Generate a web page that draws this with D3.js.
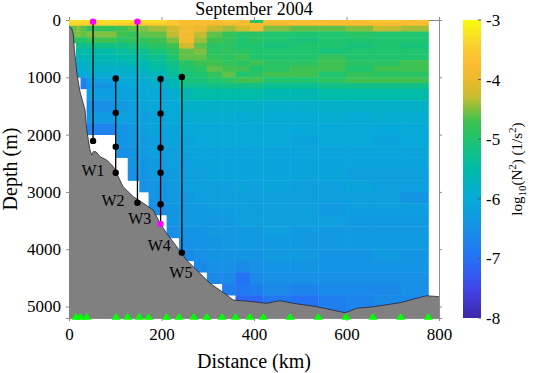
<!DOCTYPE html>
<html>
<head>
<meta charset="utf-8">
<script src="https://cdn.jsdelivr.net/npm/d3@7"></script>
<style>
body { margin: 0; background: #fff; }
text { font-family: "Liberation Serif", "Times New Roman", serif; fill: #000; }
</style>
</head>
<body>
<svg id="chart" width="533" height="373"></svg>
<script>
// CTD stations along the section (km), shown as green triangles
var stationKm = [15, 25, 38, 102, 127, 152, 172, 211, 238, 270, 298, 331, 360, 391, 420, 478, 539, 599, 657, 717, 777];
// pcolor columns start at the coast and end at the last station
var columnEdgeKm = [0].concat(stationKm);

// depth bins (m)
var depthEdges = [0, 50, 100, 200, 300, 400, 500, 600, 700, 800, 900, 1000, 1100, 1200,
    1400, 1600, 1800, 2000, 2200, 2400, 2600, 2800, 3000, 3200, 3400, 3600, 3800,
    4000, 4200, 4400, 4600, 4800, 5000, 5200];

// log10(N^2) per column, top bin first; a column stops where its profile stops
var n2Profiles = [
    [-3.3, -3.4, -4.6, -4.6, -4.8],
    [-3.3, -3.4, -4.5, -4.5, -4.9, -5.2, -5.5, -5.7, -5.8, -5.9, -6.0],
    [-3.3, -3.4, -4.6, -4.6, -5.0, -5.3, -5.5, -5.6, -5.8, -5.9, -6.0, -6.7, -6.8],
    [-3.3, -3.4, -4.8, -4.5, -4.7, -5.2, -5.5, -5.6, -5.7, -5.8, -5.9, -6.2, -6.4, -6.2, -6.5, -6.3, -6.7],
    [-3.3, -3.5, -4.7, -4.7, -4.9, -5.2, -5.4, -5.5, -5.7, -5.8, -5.9, -6.0, -6.1, -6.1, -6.3, -6.2, -6.4, -6.4, -6.5],
    [-3.3, -3.5, -4.6, -4.8, -4.8, -5.1, -5.3, -5.5, -5.6, -5.8, -5.9, -5.95, -6.0, -6.1, -6.2, -6.2, -6.3, -6.3, -6.4, -6.4, -6.5],
    [-3.3, -3.5, -4.5, -4.6, -4.8, -5.0, -5.3, -5.4, -5.6, -5.7, -5.8, -5.9, -6.0, -6.0, -6.1, -6.2, -6.2, -6.3, -6.3, -6.4, -6.4, -6.5],
    [-3.3, -3.5, -4.4, -4.6, -4.7, -4.9, -5.1, -5.3, -5.4, -5.5, -5.7, -5.8, -5.9, -6.0, -6.0, -6.1, -6.1, -6.2, -6.2, -6.3, -6.3, -6.4, -6.4, -6.5],
    [-3.5, -3.6, -4.2, -4.3, -4.5, -4.7, -4.9, -5.0, -5.2, -5.3, -5.4, -5.6, -5.7, -5.9, -6.0, -6.0, -6.1, -6.1, -6.2, -6.2, -6.3, -6.3, -6.3, -6.4, -6.4, -6.5],
    [-3.7, -3.8, -3.9, -3.9, -3.9, -4.2, -4.6, -4.6, -4.9, -5.0, -5.1, -5.1, -5.3, -5.6, -5.8, -5.95, -6.0, -6.1, -6.1, -6.2, -6.2, -6.2, -6.3, -6.3, -6.3, -6.4, -6.5, -6.6],
    [-3.7, -3.8, -4.0, -4.3, -4.4, -4.6, -4.5, -4.6, -4.7, -4.9, -5.0, -5.1, -5.3, -5.5, -5.8, -5.9, -6.0, -6.0, -6.1, -6.1, -6.2, -6.2, -6.2, -6.3, -6.3, -6.4, -6.4, -6.5, -6.6],
    [-3.7, -3.9, -4.3, -4.6, -4.7, -4.9, -4.9, -4.8, -4.7, -4.6, -4.8, -5.0, -5.2, -5.5, -5.8, -5.9, -6.0, -6.0, -6.1, -6.1, -6.1, -6.2, -6.2, -6.2, -6.3, -6.3, -6.4, -6.4, -6.5, -6.6],
    [-3.6, -3.8, -4.4, -4.8, -4.8, -4.9, -4.8, -4.9, -4.8, -4.7, -4.6, -4.9, -5.2, -5.5, -5.8, -5.9, -6.0, -6.0, -6.1, -6.1, -6.1, -6.2, -6.2, -6.2, -6.3, -6.3, -6.3, -6.4, -6.5, -6.6, -6.8],
    [-3.7, -3.8, -4.2, -4.9, -5.0, -5.0, -4.9, -4.7, -4.9, -4.7, -5.0, -4.7, -5.2, -5.5, -5.8, -5.95, -6.0, -6.0, -6.1, -6.1, -6.1, -6.1, -6.2, -6.2, -6.2, -6.3, -6.3, -6.4, -6.6, -7.0, -6.9, -7.1],
    [-5.0, -3.8, -3.9, -4.9, -4.9, -5.0, -5.0, -5.0, -4.7, -5.0, -4.9, -4.7, -5.2, -5.5, -5.8, -5.9, -6.0, -6.0, -6.1, -6.1, -6.1, -6.2, -6.2, -6.2, -6.2, -6.3, -6.3, -6.4, -6.5, -6.6, -6.8, -7.1],
    [-3.7, -3.9, -4.5, -5.0, -5.0, -5.1, -5.0, -5.0, -4.9, -4.9, -4.7, -5.0, -5.3, -5.6, -5.85, -5.95, -6.0, -6.0, -6.1, -6.1, -6.1, -6.1, -6.2, -6.2, -6.2, -6.2, -6.3, -6.3, -6.4, -6.5, -6.6, -6.9],
    [-3.7, -3.8, -4.6, -5.0, -5.1, -5.0, -5.0, -5.0, -4.9, -4.7, -4.7, -5.0, -5.3, -5.6, -5.85, -5.95, -6.0, -6.1, -6.1, -6.1, -6.1, -6.2, -6.2, -6.2, -6.2, -6.3, -6.3, -6.3, -6.4, -6.5, -6.7, -7.0, -7.0],
    [-3.7, -3.8, -4.6, -5.0, -5.0, -5.0, -5.1, -4.8, -4.7, -4.7, -5.0, -4.9, -5.2, -5.5, -5.8, -5.9, -6.0, -6.0, -6.1, -6.1, -6.1, -6.2, -6.2, -6.3, -6.2, -6.3, -6.3, -6.4, -6.4, -6.5, -6.6, -6.8, -6.8],
    [-3.7, -3.8, -4.5, -4.9, -5.0, -5.1, -5.0, -5.0, -4.9, -5.0, -4.8, -4.7, -5.2, -5.5, -5.8, -5.95, -6.0, -6.0, -6.1, -6.1, -6.2, -6.1, -6.2, -6.2, -6.3, -6.3, -6.3, -6.4, -6.4, -6.5, -6.6, -6.7, -6.7],
    [-3.6, -3.8, -4.3, -5.0, -5.0, -5.0, -5.0, -5.0, -4.9, -4.7, -4.9, -4.7, -5.2, -5.5, -5.8, -5.9, -6.0, -6.1, -6.1, -6.1, -6.2, -6.2, -6.2, -6.2, -6.3, -6.3, -6.3, -6.3, -6.4, -6.5, -6.6, -6.6, -6.6],
    [-3.7, -3.8, -4.4, -5.0, -5.0, -5.1, -5.0, -5.0, -4.7, -4.7, -4.9, -4.7, -5.2, -5.5, -5.8, -5.9, -6.0, -6.0, -6.1, -6.1, -6.2, -6.2, -6.4, -6.2, -6.3, -6.3, -6.3, -6.4, -6.4, -6.5, -6.5, -6.6]
];

// bottom topography
var bathyKm = [0, 0.6, 5.8, 9.3, 11.5, 14.5, 16.6, 20.1, 23.8, 34.6, 38.3, 45.4, 49, 52.5, 58.4, 67, 81.5, 95.8, 103, 117,
    139, 161, 182, 197, 211, 233, 254, 283, 305, 341, 355, 398, 427, 456, 485, 536, 597, 622, 658, 716, 752, 773, 800];
var bathyDepth = [110, 117, 145, 262, 494, 728, 902, 1077, 1251, 1570, 1920, 2269, 2356, 2298, 2298, 2385, 2443, 2560, 2675, 2909,
    3083, 3199, 3315, 3548, 3722, 3956, 4188, 4420, 4595, 4799, 4886, 4916, 4944, 4898, 4944, 5003, 5108, 5031, 5003, 4933, 4856, 4811, 4828];

// moorings
var mooringName = ["W1", "W2", "W3", "W4", "W5"];
var mooringKm = [52, 101, 148, 198, 244];
var mooringBlack = [[2110], [1020, 1620, 2210, 2665], [3190], [1030, 1630, 2230, 2665, 3215], [995, 4060]];
var mooringMagenta = [[30], [], [30], [3560], []];
var labelKm = [52, 95, 153, 195, 242];
var labelDepth = [2620, 3140, 3455, 3940, 4410];

// colour map (log10 N^2)
var cmapVal = [-8, -7.5, -7, -6.5, -6, -5.5, -5, -4.7, -4.5, -4.3, -4, -3.7, -3.4, -3];
var cmapCol = ["#3e26a8", "#4146e8", "#2472f4", "#1790e6", "#07a9d8", "#00bba8", "#1ec46e", "#3ec150",
    "#80c040", "#c4bc30", "#eeb92c", "#fdbe34", "#fbd22e", "#f9fb0e"];
var cbarTicks = [-3, -4, -5, -6, -7, -8];

var xTicks = [0, 200, 400, 600, 800];
var yTicks = [0, 1000, 2000, 3000, 4000, 5000];

var svg = d3.select("#chart");
var plot = { left: 69, right: 439, top: 20, bottom: 318 };

var x = d3.scaleLinear().domain([0, 800]).range([plot.left, plot.right]);
var y = d3.scaleLinear().domain([0, 5200]).range([plot.top, plot.bottom]);
var color = d3.scaleLinear().domain(cmapVal).range(cmapCol).clamp(true);

var defs = svg.append("defs");
defs.append("clipPath").attr("id", "plotClip")
    .append("rect")
    .attr("x", plot.left).attr("y", plot.top)
    .attr("width", plot.right - plot.left).attr("height", plot.bottom - plot.top);

//axes sit under the data, like matlab's default layer
var axisColor = "#8c8c8c";
function styleAxis(g) {
    g.selectAll(".domain").attr("stroke", axisColor);
    g.selectAll(".tick line").attr("stroke", axisColor);
    g.selectAll(".tick text").attr("font-size", 17).attr("fill", "#000")
        .style("font-family", "'Liberation Serif', serif");
}

svg.append("g")
    .attr("transform", "translate(0," + plot.bottom + ")")
    .call(d3.axisBottom(x).tickValues(xTicks).tickSizeOuter(0).tickSize(3).tickPadding(7).tickFormat(d3.format("d")))
    .call(styleAxis);
svg.append("g")
    .attr("transform", "translate(0," + plot.top + ")")
    .call(d3.axisTop(x).tickValues(xTicks).tickSizeOuter(0).tickSize(3).tickFormat(""))
    .call(styleAxis);
svg.append("g")
    .attr("transform", "translate(" + plot.left + ",0)")
    .call(d3.axisLeft(y).tickValues(yTicks).tickSizeOuter(0).tickSize(3).tickPadding(5).tickFormat(d3.format("d")))
    .call(styleAxis);
svg.append("g")
    .attr("transform", "translate(" + plot.right + ",0)")
    .call(d3.axisRight(y).tickValues(yTicks).tickSizeOuter(0).tickSize(3).tickFormat(""))
    .call(styleAxis);

var g = svg.append("g").attr("clip-path", "url(#plotClip)");

// N^2 field, one rect per column and depth bin
var cells = [];
n2Profiles.forEach(function(prof, c) {
    prof.forEach(function(v, r) {
        cells.push({ c: c, r: r, v: v });
    });
});
g.append("g").selectAll("rect")
    .data(cells)
    .enter().append("rect")
    .attr("x", function(d) { return x(columnEdgeKm[d.c]); })
    .attr("y", function(d) { return y(depthEdges[d.r]); })
    .attr("width", function(d) { return x(columnEdgeKm[d.c + 1]) - x(columnEdgeKm[d.c]) + 0.4; })
    .attr("height", function(d) { return y(depthEdges[d.r + 1]) - y(depthEdges[d.r]) + 0.4; })
    .attr("fill", function(d) { return color(d.v); });

// topography
var bathy = bathyKm.map(function(k, i) { return [k, bathyDepth[i]]; });
g.append("path")
    .datum(bathy)
    .attr("fill", "#808080")
    .attr("d", d3.area()
        .x(function(d) { return x(d[0]); })
        .y0(y(5200))
        .y1(function(d) { return y(d[1]); }));
g.append("path")
    .datum(bathy)
    .attr("fill", "none")
    .attr("stroke", "#23233a")
    .attr("stroke-width", 0.8)
    .attr("d", d3.line()
        .x(function(d) { return x(d[0]); })
        .y(function(d) { return y(d[1]); }));

// station triangles
svg.append("g").selectAll("path")
    .data(stationKm)
    .enter().append("path")
    .attr("transform", function(d) { return "translate(" + x(d) + "," + y(5180) + ")"; })
    .attr("d", "M0,-3.8L4.6,3L-4.6,3Z")
    .attr("fill", "#00ff00");

// moorings
var moor = svg.append("g");
mooringName.forEach(function(name, i) {
    var all = mooringBlack[i].concat(mooringMagenta[i]);
    moor.append("line")
        .attr("x1", x(mooringKm[i])).attr("x2", x(mooringKm[i]))
        .attr("y1", y(d3.min(all))).attr("y2", y(d3.max(all)))
        .attr("stroke", "#000").attr("stroke-width", 1.3);
    moor.selectAll(null).data(mooringBlack[i]).enter().append("circle")
        .attr("cx", x(mooringKm[i])).attr("cy", function(d) { return y(d); })
        .attr("r", 3.2).attr("fill", "#000");
    moor.selectAll(null).data(mooringMagenta[i]).enter().append("circle")
        .attr("cx", x(mooringKm[i])).attr("cy", function(d) { return y(d); })
        .attr("r", 3.2).attr("fill", "#ff00ff");
    moor.append("text")
        .attr("x", x(labelKm[i])).attr("y", y(labelDepth[i]))
        .attr("dy", "0.35em")
        .attr("text-anchor", "middle")
        .attr("font-size", 16)
        .text(name);
});

// colour bar
var cb = { left: 463, width: 18 };
var cbY = d3.scaleLinear().domain([-8, -3]).range([plot.bottom, plot.top]);
var grad = defs.append("linearGradient").attr("id", "cbarGrad")
    .attr("x1", 0).attr("x2", 0).attr("y1", 1).attr("y2", 0);
grad.selectAll("stop").data(cmapVal).enter().append("stop")
    .attr("offset", function(d) { return (d + 8) / 5; })
    .attr("stop-color", function(d) { return color(d); });
svg.append("rect")
    .attr("x", cb.left).attr("y", plot.top)
    .attr("width", cb.width).attr("height", plot.bottom - plot.top)
    .attr("fill", "url(#cbarGrad)");
svg.append("g").selectAll("line")
    .data(cbarTicks).enter().append("line")
    .attr("x1", cb.left + cb.width - 3).attr("x2", cb.left + cb.width)
    .attr("y1", function(d) { return cbY(d); }).attr("y2", function(d) { return cbY(d); })
    .attr("stroke", "#555");
svg.append("g").selectAll("text")
    .data(cbarTicks).enter().append("text")
    .attr("x", cb.left + cb.width + 5)
    .attr("y", function(d) { return cbY(d); })
    .attr("dy", "0.35em")
    .attr("font-size", 17)
    .text(function(d) { return d; });

var cbLabel = svg.append("text")
    .attr("transform", "translate(522," + ((plot.top + plot.bottom) / 2) + ") rotate(-90)")
    .attr("text-anchor", "middle")
    .attr("font-size", 15);
cbLabel.append("tspan").text("log");
cbLabel.append("tspan").attr("dy", 4).attr("font-size", 11).text("10");
cbLabel.append("tspan").attr("dy", -4).text("(N");
cbLabel.append("tspan").attr("dy", -6).attr("font-size", 11).text("2");
cbLabel.append("tspan").attr("dy", 6).text(") (1/s");
cbLabel.append("tspan").attr("dy", -6).attr("font-size", 11).text("2");
cbLabel.append("tspan").attr("dy", 6).text(")");

// titles
svg.append("text")
    .attr("x", (plot.left + plot.right) / 2).attr("y", 15)
    .attr("text-anchor", "middle")
    .attr("font-size", 18)
    .text("September 2004");
svg.append("text")
    .attr("x", (plot.left + plot.right) / 2).attr("y", 368)
    .attr("text-anchor", "middle")
    .attr("font-size", 20)
    .text("Distance (km)");
svg.append("text")
    .attr("transform", "translate(17," + ((plot.top + plot.bottom) / 2) + ") rotate(-90)")
    .attr("text-anchor", "middle")
    .attr("font-size", 20)
    .text("Depth (m)");
</script>
</body>
</html>
